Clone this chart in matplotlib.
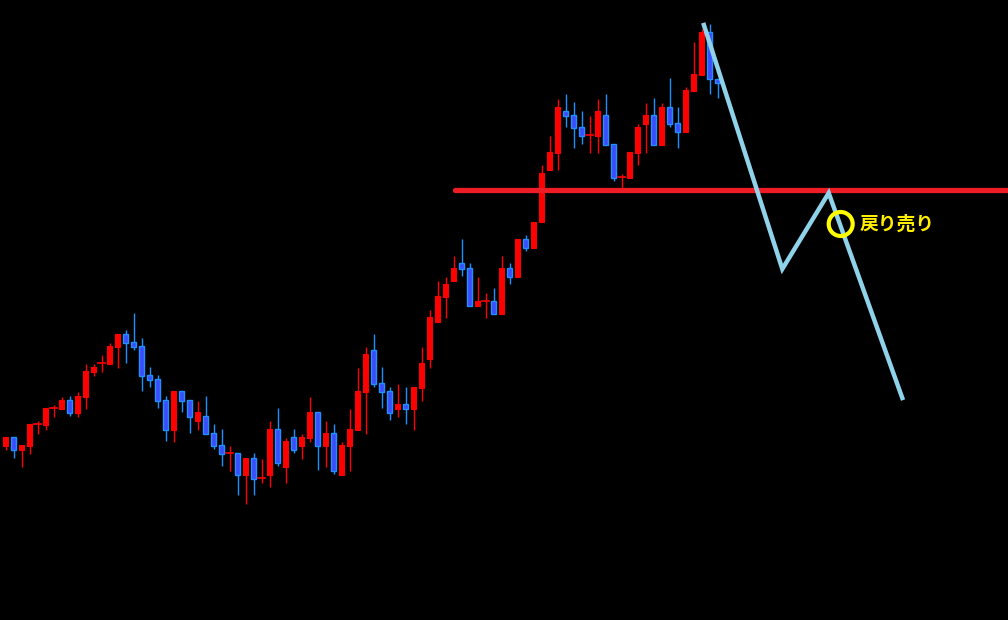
import matplotlib
matplotlib.use("Agg")
import matplotlib.pyplot as plt
from matplotlib.patches import Rectangle, Ellipse
import numpy as np

# Price values (chart units, larger value = lower on screen)
opens = [446, 437, 450, 446, 424, 425, 408, 409, 400, 413,
         397, 372, 363, 364, 347, 334, 342, 346, 375, 379,
         400, 430, 391, 400, 421, 416, 433, 445, 453, 453,
         475, 458, 478, 475, 429, 467, 437, 446, 438, 412,
         446, 433, 475, 446, 430, 392, 350, 383, 391, 409,
         404, 409, 388, 359, 322, 297, 281, 263, 268, 306,
         301, 301, 314, 268, 277, 239, 248, 222, 170, 153,
         111, 115, 127, 135, 136, 115, 144, 177, 178, 153,
         124, 115, 145, 107, 123, 132, 91, 75, 32, 79]
highs = [437, 437, 445, 424, 421, 408, 405, 397, 396, 392,
         364, 364, 355, 343, 334, 330, 313, 338, 367, 375,
         396, 391, 391, 400, 401, 396, 424, 429, 446, 453,
         458, 453, 459, 421, 408, 438, 429, 434, 397, 412,
         421, 424, 442, 409, 368, 347, 334, 367, 387, 384,
         387, 387, 347, 310, 281, 277, 256, 239, 263, 277,
         293, 288, 256, 263, 239, 235, 222, 165, 136, 99,
         94, 102, 111, 116, 99, 94, 144, 174, 152, 124,
         103, 98, 103, 78, 107, 87, 42, 29, 24, 79]
lows = [450, 458, 467, 454, 434, 430, 417, 409, 416, 417,
        409, 376, 372, 364, 368, 363, 350, 391, 387, 408,
        441, 442, 412, 433, 430, 434, 449, 466, 471, 495,
        504, 495, 483, 487, 466, 483, 453, 459, 442, 470,
        467, 474, 475, 471, 430, 434, 387, 408, 420, 417,
        424, 430, 401, 368, 322, 318, 281, 276, 306, 306,
        318, 314, 314, 284, 277, 251, 248, 222, 170, 170,
        127, 148, 144, 153, 153, 145, 181, 188, 178, 165,
        153, 145, 145, 127, 148, 132, 91, 75, 94, 98]
closes = [437, 450, 445, 424, 424, 408, 408, 400, 413, 396,
          371, 367, 363, 346, 334, 343, 347, 376, 380, 401,
          430, 391, 401, 417, 412, 434, 446, 454, 453, 475,
          458, 479, 478, 429, 463, 441, 450, 437, 412, 446,
          433, 471, 445, 429, 391, 354, 384, 392, 413, 404,
          409, 387, 363, 317, 296, 284, 268, 269, 306, 301,
          301, 314, 268, 277, 239, 248, 222, 173, 152, 107,
          116, 128, 136, 135, 111, 145, 178, 177, 152, 127,
          115, 145, 107, 124, 132, 90, 74, 32, 79, 83]

# Resistance line and scenario path
resist_level = 190
resist_start = 56.2
path_x = [87.3, 97.1, 102.9, 112.1]
path_y = [25, 269, 193, 398]
mark_x, mark_y = 104.4, 224
label = "戻り売り"

UP = "#ff0000"
DN_FILL = "#3b4cff"
DN_EDGE = "#1e90ff"

fig = plt.figure(figsize=(10.08, 6.2), dpi=100, facecolor="black")
ax = fig.add_axes([0, 0, 1, 1], facecolor="black")
ax.set_xlim(-0.6875, 125.3125)
ax.set_ylim(620, 0)
ax.axis("off")

w = 0.62
for i, (o, h, l, c) in enumerate(zip(opens, highs, lows, closes)):
    up = c <= o
    wick_col = UP if up else DN_EDGE
    ax.plot([i, i], [h, l], color=wick_col, lw=1.0, zorder=2, solid_capstyle="butt")
    top, bot = min(o, c), max(o, c)
    if bot - top < 0.8:
        ax.plot([i - w / 2 - 0.1, i + w / 2 + 0.1], [top, top], color=wick_col, lw=1.2, zorder=3)
    else:
        if up:
            ax.add_patch(Rectangle((i - w / 2, top), w, bot - top, facecolor=UP,
                                   edgecolor=UP, lw=0.8, zorder=3))
        else:
            ax.add_patch(Rectangle((i - w / 2, top), w, bot - top, facecolor=DN_FILL,
                                   edgecolor=DN_EDGE, lw=1.0, zorder=3))

ax.plot([resist_start, 125.3125], [resist_level, resist_level], color="#ee1c25",
        lw=3.8, solid_capstyle="round", zorder=4)
ax.plot(path_x, path_y, color="#8fd3ea", lw=3.2, zorder=5, solid_joinstyle="miter")
ax.add_patch(Ellipse((mark_x, mark_y), 24 / 8, 24, fill=False, edgecolor="#ffff00",
                     lw=3.0, zorder=6))
ax.text(106.75, 224, label, color="#ffee00", fontsize=13.5, fontweight="bold",
        family=["Noto Sans CJK JP", "DejaVu Sans"], va="center", ha="left", zorder=6)

fig.savefig("out.png", dpi=100, facecolor="black")
